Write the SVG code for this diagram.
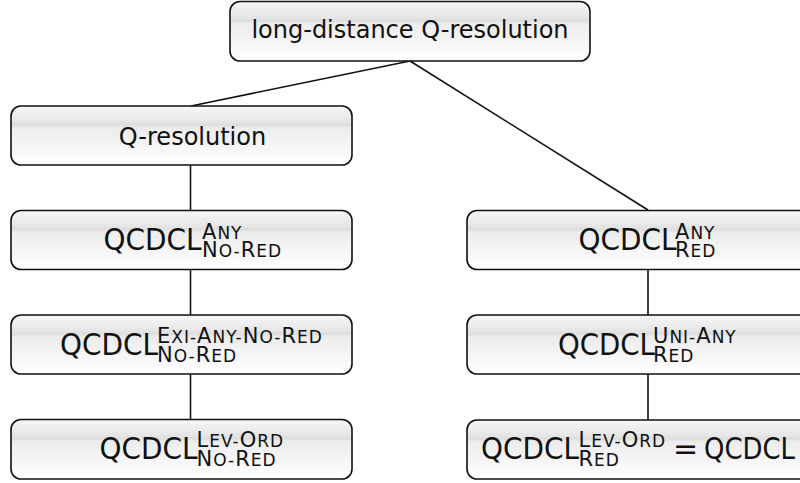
<svg xmlns="http://www.w3.org/2000/svg" width="800" height="483" viewBox="0 0 800 483">
<defs>
<linearGradient id="shade" x1="0" y1="0" x2="0" y2="1">
<stop offset="0" stop-color="#f7f7f7"/>
<stop offset="0.26" stop-color="#e6e6e6"/>
<stop offset="0.32" stop-color="#dddddd"/>
<stop offset="0.37" stop-color="#ececec"/>
<stop offset="1" stop-color="#ffffff"/>
</linearGradient>
</defs>
<style>
.box{fill:url(#shade);stroke:#111;stroke-width:1.6}
.edge{stroke:#111;stroke-width:1.6;fill:none}
text{font-family:"DejaVu Sans","Liberation Sans",sans-serif;fill:#111}
.t{font-size:24px}
.big{font-size:30px}
.sc{font-size:21px;letter-spacing:1px}
.s{font-size:17px}
</style>
<rect width="800" height="483" fill="#fff"/>
<g id="connectors">
<line class="edge" x1="410" y1="61" x2="191" y2="106"/>
<line class="edge" x1="410" y1="61" x2="648" y2="210"/>
<line class="edge" x1="190.5" y1="165" x2="190.5" y2="210"/>
<line class="edge" x1="190.5" y1="269.5" x2="190.5" y2="315"/>
<line class="edge" x1="190.5" y1="374" x2="190.5" y2="419.5"/>
<line class="edge" x1="648" y1="269.5" x2="648" y2="315"/>
<line class="edge" x1="648" y1="374" x2="648" y2="420"/>
</g>
<g id="n-ldqres">
<rect class="box" x="230" y="1.5" width="360" height="59.5" rx="10"/>
<text class="t" x="410" y="38" text-anchor="middle">long-distance Q-resolution</text>
</g>
<g id="n-qres">
<rect class="box" x="11" y="106" width="341" height="59" rx="10"/>
<text class="t" x="192.5" y="145" text-anchor="middle">Q-resolution</text>
</g>
<g id="n-any-nored">
<rect class="box" x="11" y="210.5" width="341" height="59" rx="10"/>
<text class="big" x="103.5" y="250" textLength="98" lengthAdjust="spacingAndGlyphs">QCDCL</text>
<text class="sc" x="202" y="238.5">A<tspan class="s">NY</tspan></text>
<text class="sc" x="202" y="257.3">N<tspan class="s">O-</tspan>R<tspan class="s">ED</tspan></text>
</g>
<g id="n-exi-nored">
<rect class="box" x="11" y="315" width="341" height="59" rx="10"/>
<text class="big" x="60" y="354.5" textLength="98" lengthAdjust="spacingAndGlyphs">QCDCL</text>
<text class="sc" x="157" y="343">E<tspan class="s">XI-</tspan>A<tspan class="s">NY-</tspan>N<tspan class="s">O-</tspan>R<tspan class="s">ED</tspan></text>
<text class="sc" x="157" y="361.8">N<tspan class="s">O-</tspan>R<tspan class="s">ED</tspan></text>
</g>
<g id="n-lev-nored">
<rect class="box" x="11" y="419.5" width="341" height="59.5" rx="10"/>
<text class="big" x="99.5" y="459" textLength="98" lengthAdjust="spacingAndGlyphs">QCDCL</text>
<text class="sc" x="196.5" y="447">L<tspan class="s">EV-</tspan>O<tspan class="s">RD</tspan></text>
<text class="sc" x="196.5" y="466">N<tspan class="s">O-</tspan>R<tspan class="s">ED</tspan></text>
</g>
<g id="n-any-red">
<rect class="box" x="467" y="210.5" width="362" height="59" rx="10"/>
<text class="big" x="578.5" y="250" textLength="98" lengthAdjust="spacingAndGlyphs">QCDCL</text>
<text class="sc" x="675" y="238.5">A<tspan class="s">NY</tspan></text>
<text class="sc" x="675" y="257.3">R<tspan class="s">ED</tspan></text>
</g>
<g id="n-uni-red">
<rect class="box" x="467" y="315" width="362" height="59" rx="10"/>
<text class="big" x="558" y="354.5" textLength="97" lengthAdjust="spacingAndGlyphs">QCDCL</text>
<text class="sc" x="653" y="343">U<tspan class="s">NI-</tspan>A<tspan class="s">NY</tspan></text>
<text class="sc" x="653" y="361.8">R<tspan class="s">ED</tspan></text>
</g>
<g id="n-lev-red">
<rect class="box" x="467" y="420" width="362" height="59" rx="10"/>
<text class="big" x="481" y="459.3" textLength="98" lengthAdjust="spacingAndGlyphs">QCDCL</text>
<text class="sc" x="578.5" y="446.7">L<tspan class="s">EV-</tspan>O<tspan class="s">RD</tspan></text>
<text class="sc" x="578.5" y="465.7">R<tspan class="s">ED</tspan></text>
<text class="big" x="673" y="459.3">=</text>
<text class="big" x="704" y="459.3" textLength="91" lengthAdjust="spacingAndGlyphs">QCDCL</text>
</g>
</svg>
